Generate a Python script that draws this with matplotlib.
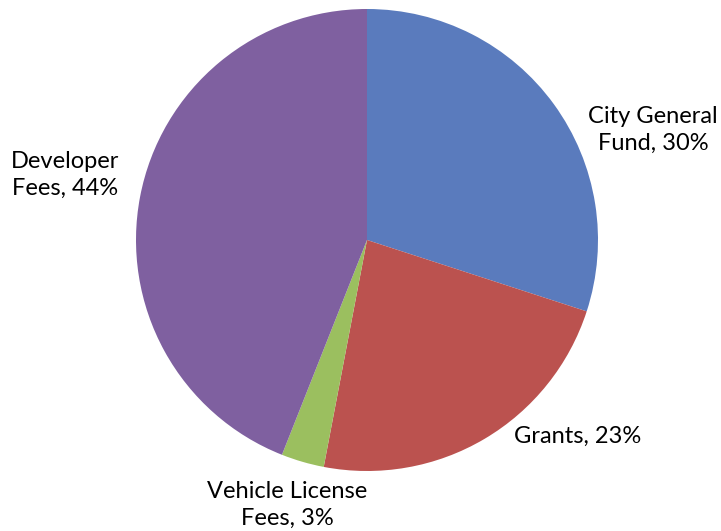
import matplotlib.pyplot as plt

# Funding sources share
categories = ['City General\nFund', 'Grants', 'Vehicle License\nFees', 'Developer\nFees']
shares = [30, 23, 3, 44]
colors = ['#5A7BBD', '#BB524F', '#9BBF5F', '#7F60A0']

# label centres in pixels (x, y from top)
label_pos = [(653, 130), (578, 436), (287, 505), (65, 175)]

W, H = 721, 531
fig = plt.figure(figsize=(W / 100, H / 100), dpi=100)

cx, cy, r = 367, 240, 231
ax = fig.add_axes([(cx - r) / W, (H - cy - r) / H, 2 * r / W, 2 * r / H])
ax.pie(shares, colors=colors, startangle=90, counterclock=False,
       radius=1, wedgeprops=dict(linewidth=0))
ax.set_xlim(-1, 1)
ax.set_ylim(-1, 1)
ax.set_aspect('equal')
ax.axis('off')

for name, val, (px, py) in zip(categories, shares, label_pos):
    fig.text(px / W, 1 - py / H, f'{name}, {val}%', ha='center', va='center',
             fontsize=17, family=['Lato', 'DejaVu Sans'], linespacing=1.3)

fig.savefig('out.png', dpi=100)
